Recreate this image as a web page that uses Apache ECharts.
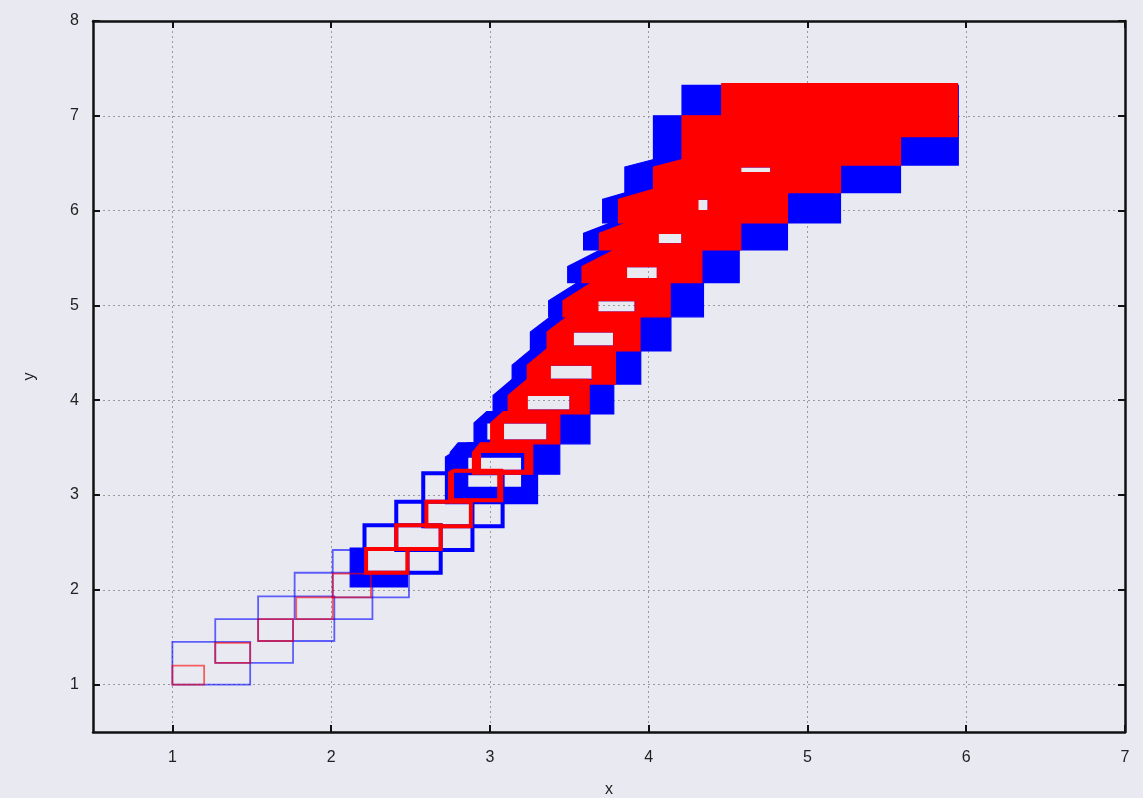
<!DOCTYPE html>
<html>
<head>
<meta charset="utf-8">
<title>boxes</title>
<script src="https://cdn.jsdelivr.net/npm/echarts@6/dist/echarts.min.js"></script>
<style>
html,body{margin:0;padding:0;background:#e9e9f2;}
#main{width:1143px;height:798px;}
</style>
</head>
<body>
<div id="main"></div>
<script>
var xTicks = [1, 2, 3, 4, 5, 6, 7];
var yTicks = [1, 2, 3, 4, 5, 6, 7, 8];

/* red boxes: first and last box of each step [x0, y0, x1, y1] */
var redFirst = [
  [1.00, 1.00, 1.20, 1.20], [1.27, 1.23, 1.49, 1.44], [1.54, 1.46, 1.76, 1.69],
  [1.78, 1.69, 2.01, 1.92], [2.01, 1.92, 2.25, 2.17], [2.22, 2.18, 2.48, 2.43],
  [2.41, 2.43, 2.69, 2.68], [2.60, 2.67, 2.88, 2.93], [2.74, 2.93, 3.05, 3.24],
  [2.89, 3.22, 3.22, 3.45], [3.005, 3.54, 3.36, 3.76], [3.115, 3.855, 3.505, 4.05],
  [3.235, 4.17, 3.645, 4.37], [3.36, 4.52, 3.78, 4.72], [3.46, 4.88, 3.915, 5.05],
  [3.58, 5.24, 4.055, 5.41], [3.69, 5.585, 4.21, 5.76], [3.81, 5.87, 4.375, 6.12],
  [4.03, 6.19, 4.77, 6.46], [4.21, 6.48, 5.586, 6.74], [4.46, 6.78, 5.945, 7.06]
];
var redLast = [
  [1.00, 1.00, 1.20, 1.20], [1.27, 1.23, 1.49, 1.44], [1.54, 1.46, 1.76, 1.69],
  [1.78, 1.69, 2.01, 1.92], [2.01, 1.92, 2.25, 2.17], [2.22, 2.18, 2.48, 2.43],
  [2.41, 2.43, 2.69, 2.68], [2.60, 2.67, 2.88, 2.93], [2.77, 2.96, 3.08, 3.27],
  [2.94, 3.26, 3.27, 3.55], [3.085, 3.58, 3.44, 3.88], [3.235, 3.895, 3.625, 4.22],
  [3.38, 4.21, 3.79, 4.57], [3.525, 4.56, 3.945, 4.93], [3.68, 4.92, 4.135, 5.28],
  [3.86, 5.28, 4.335, 5.65], [4.06, 5.64, 4.58, 6.00], [4.31, 6.00, 4.874, 6.36],
  [4.58, 6.40, 5.208, 6.70], [4.21, 6.74, 5.586, 7.00], [4.46, 7.06, 5.945, 7.34]
];

/* blue boxes */
var blueFirst = [
  [1.00, 1.00, 1.49, 1.45], [1.27, 1.23, 1.76, 1.69], [1.54, 1.46, 2.02, 1.93],
  [1.77, 1.69, 2.26, 2.18], [2.01, 1.92, 2.49, 2.42], [2.12, 2.03, 2.48, 2.44],
  [2.21, 2.18, 2.69, 2.68], [2.41, 2.42, 2.89, 2.93], [2.58, 2.67, 3.08, 3.23],
  [2.72, 2.91, 3.20, 3.40], [2.75, 3.22, 3.22, 3.45], [2.90, 3.54, 3.36, 3.76],
  [3.02, 3.855, 3.505, 4.05], [3.14, 4.17, 3.645, 4.37], [3.255, 4.52, 3.78, 4.72],
  [3.37, 4.88, 3.915, 5.05], [3.49, 5.24, 4.055, 5.41], [3.59, 5.585, 4.21, 5.76],
  [3.71, 5.87, 4.375, 6.12], [3.85, 6.19, 4.77, 6.46], [4.03, 6.48, 5.586, 6.74],
  [4.21, 6.80, 5.95, 7.06]
];
var blueLast = [
  [1.00, 1.00, 1.49, 1.45], [1.27, 1.23, 1.76, 1.69], [1.54, 1.46, 2.02, 1.93],
  [1.77, 1.69, 2.26, 2.18], [2.01, 1.92, 2.49, 2.42], [2.22, 2.17, 2.48, 2.44],
  [2.21, 2.18, 2.69, 2.68], [2.41, 2.42, 2.89, 2.93], [2.58, 2.67, 3.08, 3.23],
  [2.86, 3.08, 3.30, 3.55], [2.80, 3.26, 3.44, 3.55], [2.98, 3.58, 3.63, 3.88],
  [3.14, 3.895, 3.78, 4.22], [3.285, 4.21, 3.95, 4.57], [3.42, 4.56, 4.14, 4.93],
  [3.59, 4.92, 4.345, 5.28], [3.77, 5.28, 4.57, 5.65], [3.96, 5.64, 4.874, 6.00],
  [4.21, 6.00, 5.208, 6.36], [4.40, 6.40, 5.586, 6.70], [4.03, 6.74, 5.95, 7.00],
  [4.21, 7.06, 5.95, 7.32]
];

function joinBoxes(first, last) {
  var out = [];
  for (var i = 0; i < first.length; i++) {
    out.push(first[i].concat(last[i]));
  }
  return out;
}

function cross(o, a, b) {
  return (a[0] - o[0]) * (b[1] - o[1]) - (a[1] - o[1]) * (b[0] - o[0]);
}

function convexHull(pts) {
  pts.sort(function (p, q) { return p[0] - q[0] || p[1] - q[1]; });
  var lower = [], upper = [], i;
  for (i = 0; i < pts.length; i++) {
    while (lower.length >= 2 && cross(lower[lower.length - 2], lower[lower.length - 1], pts[i]) <= 0) lower.pop();
    lower.push(pts[i]);
  }
  for (i = pts.length - 1; i >= 0; i--) {
    while (upper.length >= 2 && cross(upper[upper.length - 2], upper[upper.length - 1], pts[i]) <= 0) upper.pop();
    upper.push(pts[i]);
  }
  upper.pop();
  lower.pop();
  return lower.concat(upper);
}

function area(poly) {
  var s = 0;
  for (var i = 0; i < poly.length; i++) {
    var a = poly[i], b = poly[(i + 1) % poly.length];
    s += a[0] * b[1] - b[0] * a[1];
  }
  return s;
}

function toPath(poly) {
  return 'M' + poly.map(function (p) { return p[0].toFixed(2) + ' ' + p[1].toFixed(2); }).join('L') + 'Z';
}

/* every step: all boxes between its first and last box, the inner part stays empty */
function boxStep(color) {
  return function (params, api) {
    var p = [];
    for (var k = 0; k < 8; k += 2) {
      p.push(api.coord([api.value(k), api.value(k + 1)]));
    }
    // l, t, r, b in pixels
    var r0 = [p[0][0], p[1][1], p[1][0], p[0][1]];
    var r1 = [p[2][0], p[3][1], p[3][0], p[2][1]];
    var pts = [];
    [r0, r1].forEach(function (r) {
      pts.push([r[0], r[1]], [r[2], r[1]], [r[2], r[3]], [r[0], r[3]]);
    });
    // lower right corner of the step
    pts.push([Math.max(r0[2], r1[2]), Math.max(r0[3], r1[3])]);
    var hull = convexHull(pts);
    var d = toPath(hull);
    var hl = Math.max(r0[0], r1[0]), hr = Math.min(r0[2], r1[2]);
    var ht = Math.max(r0[1], r1[1]), hb = Math.min(r0[3], r1[3]);
    if (hr - hl > 0.5 && hb - ht > 0.5) {
      var hole = area(hull) > 0
        ? [[hl, ht], [hl, hb], [hr, hb], [hr, ht]]
        : [[hl, ht], [hr, ht], [hr, hb], [hl, hb]];
      d += toPath(hole);
    }
    var swept = r0.join() !== r1.join();
    var lw = params.dataIndex < 5 ? 1.8 : (swept ? 1.2 : 4);
    var op = params.dataIndex < 5 ? 0.6 : 1;
    return {
      type: 'path',
      shape: { pathData: d },
      style: {
        fill: swept ? color : 'none',
        stroke: color,
        lineWidth: lw,
        opacity: op
      }
    };
  };
}

var myChart = echarts.init(document.getElementById('main'));
var font = 'Liberation Sans, Arial, sans-serif';

var gridLine = { show: true, lineStyle: { color: '#9a9a9a', width: 1, type: [2, 3] } };
var axisLine = { show: true, onZero: false, lineStyle: { color: '#111', width: 2.5 } };

option = {
  backgroundColor: '#e9e9f2',
  animation: false,
  grid: { left: 93, right: 18, top: 21, bottom: 66, containLabel: false, outerBoundsMode: 'none' },
  xAxis: [{
    type: 'value', min: 0.5, max: 7, minInterval: 1, maxInterval: 1,
    name: 'x', nameLocation: 'middle', nameGap: 50,
    nameTextStyle: { color: '#222', fontSize: 16, fontFamily: font },
    axisLine: axisLine,
    axisTick: { show: true, inside: true, length: 7, customValues: xTicks, lineStyle: { color: '#111', width: 2 } },
    axisLabel: { customValues: xTicks, margin: 18, fontSize: 16, color: '#222', fontFamily: font },
    splitLine: gridLine
  }, {
    type: 'value', position: 'top', min: 0.5, max: 7, minInterval: 1, maxInterval: 1,
    axisLine: axisLine,
    axisTick: { show: true, inside: true, length: 7, customValues: xTicks, lineStyle: { color: '#111', width: 2 } },
    axisLabel: { show: false },
    splitLine: { show: false }
  }],
  yAxis: [{
    type: 'value', min: 0.5, max: 8, minInterval: 1, maxInterval: 1,
    name: 'y', nameLocation: 'middle', nameGap: 55, nameRotate: 90,
    nameTextStyle: { color: '#222', fontSize: 16, fontFamily: font },
    axisLine: axisLine,
    axisTick: { show: true, inside: true, length: 7, customValues: yTicks, lineStyle: { color: '#111', width: 2 } },
    axisLabel: { customValues: yTicks, margin: 14, fontSize: 16, color: '#222', fontFamily: font },
    splitLine: gridLine
  }, {
    type: 'value', position: 'right', min: 0.5, max: 8, minInterval: 1, maxInterval: 1,
    axisLine: axisLine,
    axisTick: { show: true, inside: true, length: 7, customValues: yTicks, lineStyle: { color: '#111', width: 2 } },
    axisLabel: { show: false },
    splitLine: { show: false }
  }],
  series: [{
    name: 'blue',
    type: 'custom',
    renderItem: boxStep('#0000ff'),
    data: joinBoxes(blueFirst, blueLast),
    encode: { x: [0, 2, 4, 6], y: [1, 3, 5, 7] },
    clip: true,
    silent: true,
    z: 2
  }, {
    name: 'red',
    type: 'custom',
    renderItem: boxStep('#ff0000'),
    data: joinBoxes(redFirst, redLast),
    encode: { x: [0, 2, 4, 6], y: [1, 3, 5, 7] },
    clip: true,
    silent: true,
    z: 3
  }]
};
myChart.setOption(option);
</script>
</body>
</html>
